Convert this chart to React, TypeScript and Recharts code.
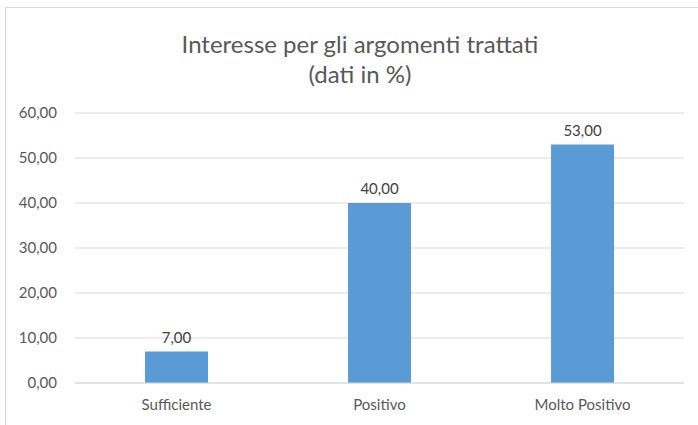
import React from 'react';
import { BarChart, Bar, XAxis, YAxis, CartesianGrid, LabelList } from 'recharts';

const categories = ['Sufficiente', 'Positivo', 'Molto Positivo'];
const values = [7, 40, 53];
const yTicks = [0, 10, 20, 30, 40, 50, 60];

const data = categories.map((name, i) => ({ name, value: values[i] }));

const fmt = (v: number) => v.toFixed(2).replace('.', ',');

const font = 'Lato, "Open Sans", sans-serif';
const textColor = '#595959';

export default function App() {
  return (
    <div
      style={{
        position: 'absolute',
        left: 0,
        top: 0,
        width: 698,
        height: 425,
        overflow: 'hidden',
        background: '#fff',
        fontFamily: font,
      }}
    >
      <div
        style={{
          position: 'absolute',
          left: 5,
          top: 7,
          width: 740,
          height: 460,
          border: '1px solid #d9d9d9',
        }}
      />
      <div
        style={{
          position: 'absolute',
          left: 160,
          width: 400,
          top: 29,
          textAlign: 'center',
          fontSize: 24,
          lineHeight: '30px',
          color: textColor,
        }}
      >
        Interesse per gli argomenti trattati
        <br />
        (dati in %)
      </div>
      <div style={{ position: 'absolute', left: 0, top: 0 }}>
        <BarChart
          width={698}
          height={425}
          data={data}
          margin={{ top: 113, right: 14, bottom: 12, left: 0 }}
          barCategoryGap="34.5%"
        >
          <CartesianGrid vertical={false} stroke="#d9d9d9" />
          <XAxis
            dataKey="name"
            height={30}
            axisLine={{ stroke: '#d9d9d9' }}
            tickLine={false}
            tickMargin={10}
            tick={{ fill: textColor, fontSize: 15, fontFamily: font }}
          />
          <YAxis
            width={75}
            domain={[0, 60]}
            ticks={yTicks}
            axisLine={false}
            tickLine={false}
            tickSize={0}
            tickMargin={18}
            tickFormatter={fmt}
            tick={{ fill: textColor, fontSize: 15, fontFamily: font }}
          />
          <Bar dataKey="value" fill="#5b9bd5" isAnimationActive={false}>
            <LabelList
              dataKey="value"
              position="top"
              offset={9}
              formatter={(v: any) => fmt(Number(v))}
              style={{ fill: '#404040', fontSize: 15, fontFamily: font }}
            />
          </Bar>
        </BarChart>
      </div>
    </div>
  );
}
